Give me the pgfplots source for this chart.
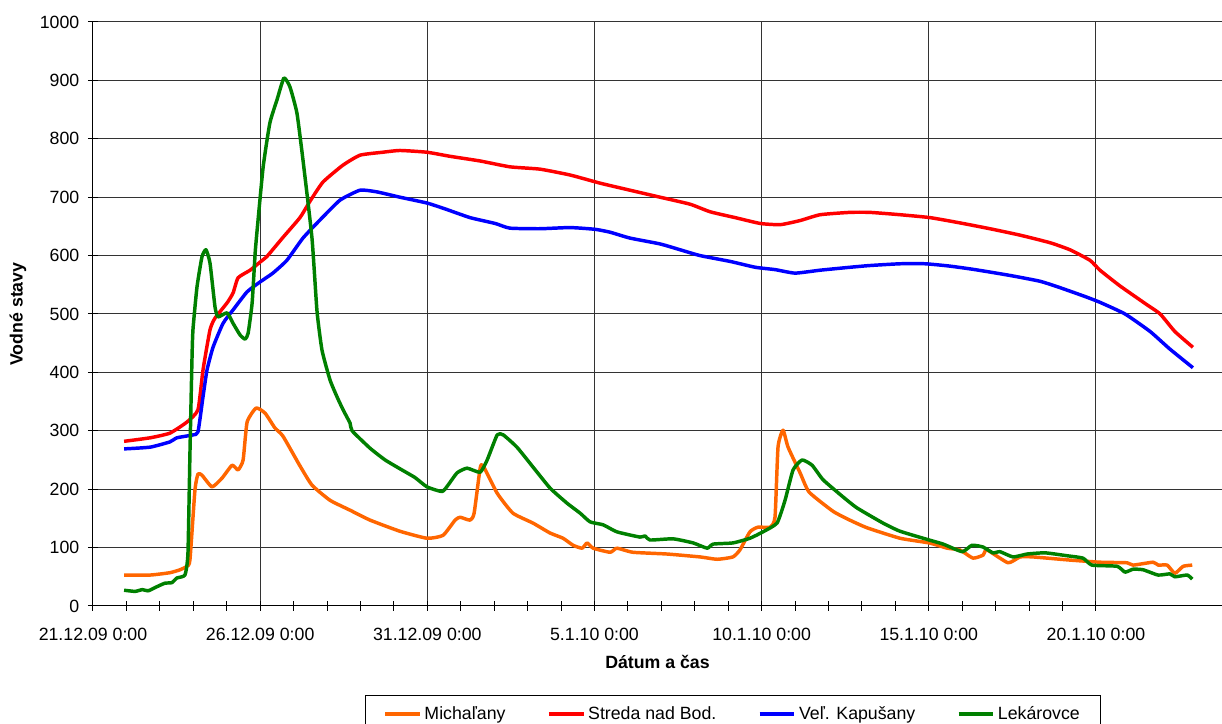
\documentclass[border=0pt]{standalone}
\usepackage{pgfplots}
\pgfplotsset{compat=1.18}
\usepackage{pgfplotstable}
\usepackage{fontspec}
\setmainfont{Liberation Sans}

\definecolor{corange}{HTML}{FF6600}
\definecolor{cred}{HTML}{FF0000}
\definecolor{cblue}{HTML}{0000FF}
\definecolor{cgreen}{HTML}{008000}

% x = days since 21.12.09 0:00
\pgfplotstableread{
x y
0.93 53
1.71 53
2.30 57
2.60 62
2.81 68
2.90 79
3.05 199
3.14 226
3.26 224
3.56 204
3.86 219
4.16 241
4.34 233
4.49 250
4.61 315
4.88 339
5.15 330
5.44 305
5.68 291
6.19 240
6.55 207
7.09 181
7.69 164
8.29 147
9.18 128
9.99 116
10.47 121
10.83 147
10.98 152
11.28 147
11.40 159
11.58 236
11.67 240
12.09 193
12.56 159
13.16 142
13.67 125
14.06 116
14.36 104
14.63 99
14.78 108
14.96 99
15.47 92
15.67 99
16.15 92
17.17 89
18.16 84
18.67 80
19.14 84
19.35 96
19.65 127
19.89 135
20.25 135
20.40 152
20.49 272
20.64 301
20.79 272
21.15 228
21.42 195
22.14 162
22.64 147
23.15 134
24.14 116
25.01 108
25.55 99
25.93 96
26.32 82
26.62 87
26.74 96
27.37 74
27.73 84
28.12 84
29.14 79
30.12 75
30.93 74
31.11 70
31.71 75
31.86 70
32.13 70
32.36 56
32.61 68
32.88 70
}\michalany

\pgfplotstableread{
x y
0.93 282
1.71 288
2.30 296
2.81 315
3.14 336
3.29 404
3.50 473
3.65 493
4.01 519
4.19 536
4.34 562
4.70 575
5.00 589
5.21 599
5.68 631
6.19 665
6.49 693
6.88 726
7.48 755
7.99 772
8.67 777
9.18 780
9.99 777
10.68 770
11.58 762
12.47 752
13.37 748
14.27 738
15.17 724
16.06 712
16.96 700
17.86 688
18.46 675
19.21 665
19.96 655
20.56 653
21.15 660
21.75 670
22.64 674
23.24 674
24.14 670
25.04 665
25.93 656
26.83 646
27.73 635
28.63 622
29.22 610
29.82 592
30.12 575
30.72 548
31.47 518
31.92 500
32.36 470
32.90 443
}\streda

\pgfplotstableread{
x y
0.93 269
1.71 272
2.30 281
2.51 288
2.99 293
3.14 298
3.29 358
3.41 404
3.59 443
3.89 484
4.19 507
4.61 538
5.00 555
5.38 570
5.80 592
6.28 630
6.79 661
7.39 695
7.99 712
8.50 709
9.18 700
9.99 690
10.53 680
11.28 665
12.03 655
12.47 647
13.37 646
14.27 648
15.02 645
15.47 640
16.06 630
16.96 620
17.56 610
18.16 600
19.06 590
19.81 580
20.40 576
21.00 570
21.75 575
22.64 580
23.24 583
24.14 586
24.89 586
25.63 582
26.38 576
27.43 566
28.33 556
28.93 545
29.67 530
30.12 520
30.87 500
31.62 470
32.21 440
32.90 408
}\kapusany

\pgfplotstableread{
x y
0.93 27
1.26 25
1.47 28
1.65 26
1.91 33
2.15 39
2.36 40
2.51 48
2.75 53
2.84 90
2.90 262
2.96 421
2.99 473
3.11 546
3.26 598
3.38 610
3.50 587
3.65 512
3.74 495
4.01 502
4.19 484
4.40 464
4.55 457
4.64 467
4.76 519
4.85 604
4.91 644
5.09 752
5.29 827
5.50 866
5.71 904
5.89 889
6.10 844
6.28 764
6.55 630
6.70 505
6.85 438
7.09 387
7.30 358
7.48 336
7.69 313
7.75 300
8.29 270
8.74 250
9.18 235
9.63 220
9.99 204
10.44 196
10.62 207
10.89 228
11.19 236
11.58 229
11.79 250
12.09 293
12.27 293
12.68 272
13.16 238
13.67 202
14.18 176
14.57 159
14.87 144
15.26 139
15.67 127
16.36 118
16.51 120
16.66 113
17.35 115
17.95 108
18.37 99
18.55 106
19.14 108
19.65 116
20.04 127
20.46 142
20.70 181
20.94 233
21.21 250
21.51 241
21.84 216
22.43 187
22.85 168
23.63 142
24.14 128
25.01 113
25.43 106
26.00 93
26.29 104
26.62 101
26.92 91
27.13 93
27.52 84
27.94 89
28.48 91
29.14 86
29.61 82
29.88 70
30.63 68
30.87 58
31.11 63
31.41 62
31.86 53
32.21 55
32.36 50
32.73 53
32.88 46
}\lekarovce

\begin{document}
\begin{tikzpicture}
\begin{axis}[
  scale only axis,
  width=846.75pt, height=438pt,
  xmin=0, xmax=33.77, ymin=0, ymax=1000,
  axis x line*=bottom, axis y line*=left,
  axis line style={-, black, line width=0.75pt},
  xtick={0,5,10,15,20,25,30},
  xticklabels={21.12.09 0:00, 26.12.09 0:00, 31.12.09 0:00, 5.1.10 0:00, 10.1.10 0:00, 15.1.10 0:00, 20.1.10 0:00},
  minor x tick num=4,
  ytick={0,100,...,1000},
  /pgf/number format/assume math mode=true,
  /pgf/number format/1000 sep={},
  tick align=center,
  major tick length=7.5pt, minor tick length=7.5pt,
  tick style={black, line width=0.75pt},
  grid=major,
  major grid style={black!80, line width=0.75pt},
  ticklabel style={font=\fontsize{13.3}{15}\selectfont},
  xticklabel style={yshift=-9pt},
  yticklabel style={xshift=-3pt},
  xlabel={\textbf{Dátum a čas}},
  ylabel={\textbf{Vodné stavy}},
  label style={font=\fontsize{13.3}{15}\selectfont},
  xlabel style={at={(axis description cs:0.5,-0.0959)}, anchor=center},
  ylabel style={at={(axis description cs:-0.0664,0.5)}, anchor=center},
  legend columns=4,
  legend style={at={(axis description cs:0.2409,-0.1524)}, anchor=north west,
    draw=black, line width=0.75pt, font=\fontsize{13.3}{15}\selectfont,
    inner xsep=13.25pt, inner ysep=6.25pt,
    /tikz/every even column/.append style={column sep=29pt}},
  legend cell align=left,
  legend image code/.code={\draw[#1, line width=3pt] (0pt,0pt) -- (26pt,0pt);},
  every axis plot/.append style={line width=2.6pt, line join=round, smooth, tension=0.3},
]
\addplot[corange] table[x=x,y=y] {\michalany};
\addlegendentry{Michaľany}
\addplot[cred] table[x=x,y=y] {\streda};
\addlegendentry{Streda nad Bod.}
\addplot[cblue] table[x=x,y=y] {\kapusany};
\addlegendentry{Veľ. Kapušany}
\addplot[cgreen] table[x=x,y=y] {\lekarovce};
\addlegendentry{Lekárovce}
\end{axis}
\pgfresetboundingbox
\useasboundingbox (-69.75pt,-88.5pt) rectangle (846.75pt,454.5pt);
\end{tikzpicture}
\end{document}
